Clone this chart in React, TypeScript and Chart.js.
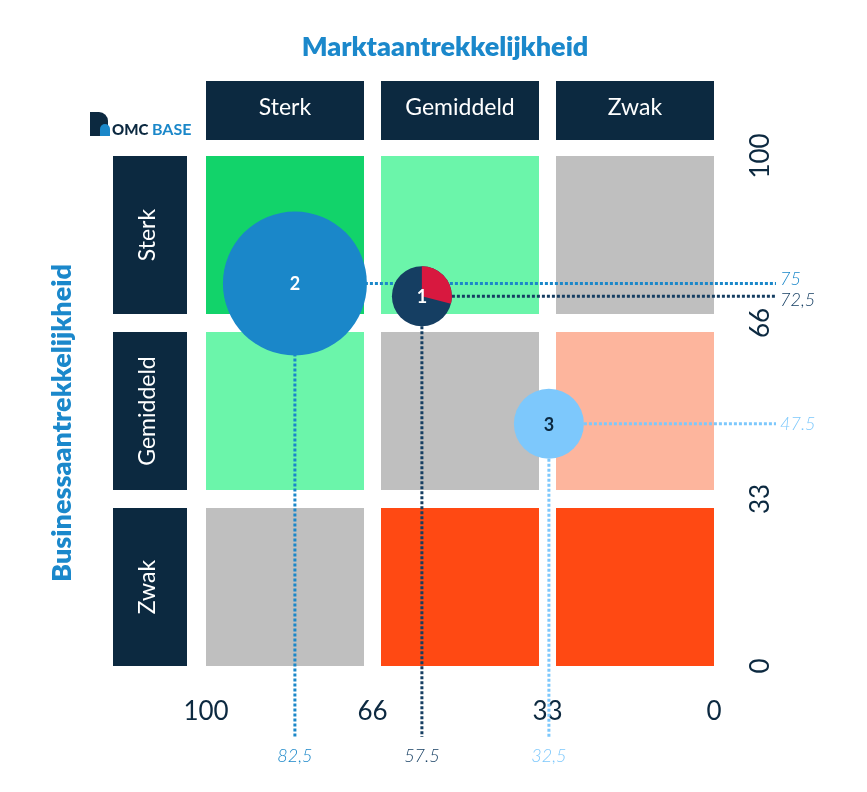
import React, { useEffect, useRef } from "react";
import { Chart, registerables } from "chart.js";

Chart.register(...registerables);

// ---- Data ----
const columnLabels = ["Sterk", "Gemiddeld", "Zwak"];
const rowLabels = ["Sterk", "Gemiddeld", "Zwak"];
const xTickLabels = ["100", "66", "33", "0"];
const yTickLabels = ["100", "66", "33", "0"];
const bubbleIds = ["1", "2", "3"];
const marketValues = [57.5, 82.5, 32.5];
const businessValues = [72.5, 75, 47.5];
const bubbleRadii = [30, 72, 35];
const bubble1RedShare = 0.29;
const marketValueLabels = ["57.5", "82,5", "32,5"];
const businessValueLabels = ["72,5", "75", "47.5"];
const cellColorsRow1 = ["#12d36a", "#6bf5aa", "#bfbfbf"];
const cellColorsRow2 = ["#6bf5aa", "#bfbfbf", "#fdb59d"];
const cellColorsRow3 = ["#bfbfbf", "#ff4913", "#ff4913"];

const bubbleColors = ["#153e62", "#1a87c9", "#7dc8fc"];
const bubbleTextColors = ["#ffffff", "#ffffff", "#0c2940"];
const pieRed = "#d8183f";
const navy = "#0c2940";
const titleBlue = "#1b88cb";
const FONT = "Lato, 'Open Sans', sans-serif";

const matrixPlugin = {
  id: "matrix",
  beforeDatasetsDraw(chart: any) {
    const ctx = chart.ctx as CanvasRenderingContext2D;
    const xs = chart.scales.x;
    const ys = chart.scales.y;
    const left = xs.getPixelForValue(100);
    const right = xs.getPixelForValue(0);
    const top = ys.getPixelForValue(100);
    const bottom = ys.getPixelForValue(0);
    const gapX = 17;
    const gapY = 18;
    const cw = (right - left - 2 * gapX) / 3;
    const ch = (bottom - top - 2 * gapY) / 3;
    const colX = [0, 1, 2].map((i) => left + i * (cw + gapX));
    const rowY = [0, 1, 2].map((i) => top + i * (ch + gapY));
    const grid = [cellColorsRow1, cellColorsRow2, cellColorsRow3];

    ctx.save();
    // cells
    for (let r = 0; r < 3; r++) {
      for (let c = 0; c < 3; c++) {
        ctx.fillStyle = grid[r][c];
        ctx.fillRect(colX[c], rowY[r], cw, ch);
      }
    }
    // column headers
    const hTop = top - 75;
    const hH = 59;
    ctx.font = `400 23px ${FONT}`;
    ctx.textAlign = "center";
    ctx.textBaseline = "middle";
    for (let c = 0; c < 3; c++) {
      ctx.fillStyle = navy;
      ctx.fillRect(colX[c], hTop, cw, hH);
      ctx.fillStyle = "#ffffff";
      ctx.fillText(columnLabels[c], colX[c] + cw / 2, hTop + hH / 2 - 3);
    }
    // row headers
    const rLeft = left - 93;
    const rW = 74;
    for (let r = 0; r < 3; r++) {
      ctx.fillStyle = navy;
      ctx.fillRect(rLeft, rowY[r], rW, ch);
      ctx.save();
      ctx.translate(rLeft + rW / 2 - 2, rowY[r] + ch / 2);
      ctx.rotate(-Math.PI / 2);
      ctx.fillStyle = "#ffffff";
      ctx.fillText(rowLabels[r], 0, 0);
      ctx.restore();
    }
    // titles
    ctx.font = `800 27px ${FONT}`;
    ctx.fillStyle = titleBlue;
    ctx.fillText("Marktaantrekkelijkheid", (left + right) / 2 - 15, 47);
    ctx.save();
    ctx.translate(62, (top + bottom) / 2 + 12);
    ctx.rotate(-Math.PI / 2);
    ctx.fillText("Businessaantrekkelijkheid", 0, 0);
    ctx.restore();

    // logo
    ctx.fillStyle = "#0c2940";
    ctx.beginPath();
    ctx.moveTo(90, 136);
    ctx.lineTo(90, 112);
    ctx.lineTo(99, 112);
    ctx.arc(99, 121, 9, -Math.PI / 2, 0);
    ctx.lineTo(108, 136);
    ctx.closePath();
    ctx.fill();
    ctx.fillStyle = "#1a87c9";
    ctx.beginPath();
    ctx.moveTo(100, 136);
    ctx.lineTo(100, 129);
    ctx.arc(105, 129, 5, Math.PI, 0);
    ctx.lineTo(110, 136);
    ctx.closePath();
    ctx.fill();
    ctx.textAlign = "left";
    ctx.textBaseline = "alphabetic";
    ctx.font = `900 15px ${FONT}`;
    ctx.fillStyle = "#0c2940";
    ctx.fillText("OMC", 112, 135);
    ctx.font = `700 16px ${FONT}`;
    ctx.fillStyle = "#1a87c9";
    ctx.fillText("BASE", 152, 135);

    // axis tick labels
    const xTickPos = [left, colX[1] - gapX / 2, colX[2] - gapX / 2, right];
    const yTickPos = [top, rowY[1] - gapY / 2, rowY[2] - gapY / 2, bottom];
    ctx.font = `400 26px ${FONT}`;
    ctx.fillStyle = navy;
    ctx.textAlign = "center";
    ctx.textBaseline = "middle";
    for (let i = 0; i < 4; i++) {
      ctx.fillText(xTickLabels[i], xTickPos[i], bottom + 46);
      ctx.save();
      ctx.translate(right + 47, yTickPos[i]);
      ctx.rotate(-Math.PI / 2);
      ctx.fillText(yTickLabels[i], 0, 0);
      ctx.restore();
    }

    // dotted guide lines
    const meta = chart.getDatasetMeta(0);
    const hEnd = right + 62;
    const vEnd = bottom + 71;
    const pts = meta.data.map((el: any) => ({ x: el.x, y: el.y }));
    ctx.lineWidth = 3;
    ctx.setLineDash([3, 2]);
    const order = [2, 1, 0];
    for (const i of order) {
      const p = pts[i];
      ctx.strokeStyle = bubbleColors[i];
      ctx.beginPath();
      ctx.moveTo(p.x, p.y);
      ctx.lineTo(hEnd, p.y);
      ctx.stroke();
      ctx.beginPath();
      ctx.moveTo(p.x, p.y);
      ctx.lineTo(p.x, vEnd);
      ctx.stroke();
    }
    ctx.setLineDash([]);

    // value labels
    ctx.font = `italic 300 18px ${FONT}`;
    const idxByY = [0, 1, 2].sort((a, b) => pts[a].y - pts[b].y);
    const labelYs: number[] = [];
    idxByY.forEach((i) => {
      labelYs[i] = pts[i].y;
    });
    for (let k = 1; k < idxByY.length; k++) {
      const a = idxByY[k - 1];
      const b = idxByY[k];
      if (labelYs[b] - labelYs[a] < 21) {
        const mid = (labelYs[a] + labelYs[b]) / 2;
        labelYs[a] = mid - 10.5;
        labelYs[b] = mid + 10.5;
      }
    }
    ctx.textAlign = "left";
    for (let i = 0; i < 3; i++) {
      ctx.fillStyle = bubbleColors[i];
      ctx.fillText(businessValueLabels[i], hEnd + 4, labelYs[i]);
    }
    ctx.textAlign = "center";
    for (let i = 0; i < 3; i++) {
      ctx.fillStyle = bubbleColors[i];
      ctx.fillText(marketValueLabels[i], pts[i].x, bottom + 90);
    }
    ctx.restore();
  },
  afterDatasetsDraw(chart: any) {
    const ctx = chart.ctx as CanvasRenderingContext2D;
    const meta = chart.getDatasetMeta(0);
    ctx.save();
    const e0 = meta.data[0];
    const start = -Math.PI / 2;
    ctx.fillStyle = pieRed;
    ctx.beginPath();
    ctx.moveTo(e0.x, e0.y);
    ctx.arc(e0.x, e0.y, bubbleRadii[0], start, start + bubble1RedShare * Math.PI * 2);
    ctx.closePath();
    ctx.fill();
    ctx.font = `700 18px ${FONT}`;
    ctx.textAlign = "center";
    ctx.textBaseline = "middle";
    meta.data.forEach((el: any, i: number) => {
      ctx.fillStyle = bubbleTextColors[i];
      ctx.fillText(bubbleIds[i], el.x, el.y + 1);
    });
    ctx.restore();
  },
};

export default function App() {
  const canvasRef = useRef<HTMLCanvasElement | null>(null);

  useEffect(() => {
    document.body.style.margin = "0";
    const canvas = canvasRef.current;
    if (!canvas) return;
    const chart = new Chart(canvas, {
      type: "bubble",
      data: {
        datasets: [
          {
            data: bubbleIds.map((_, i) => ({
              x: marketValues[i],
              y: businessValues[i],
              r: bubbleRadii[i],
            })),
            backgroundColor: bubbleColors,
            borderWidth: 0,
            hoverRadius: 0,
            hoverBorderWidth: 0,
          },
        ],
      },
      options: {
        responsive: false,
        maintainAspectRatio: false,
        animation: false,
        devicePixelRatio: 1,
        events: [],
        clip: false as any,
        layout: { padding: { left: 206, right: 153, top: 156, bottom: 126 } },
        plugins: { legend: { display: false }, tooltip: { enabled: false } },
        scales: {
          x: { type: "linear", min: 0, max: 100, reverse: true, display: false },
          y: { type: "linear", min: 0, max: 100, display: false },
        },
      },
      plugins: [matrixPlugin],
    });
    return () => chart.destroy();
  }, []);

  return (
    <div style={{ width: 867, height: 792, background: "#ffffff" }}>
      <canvas ref={canvasRef} width={867} height={792} style={{ display: "block" }} />
    </div>
  );
}
